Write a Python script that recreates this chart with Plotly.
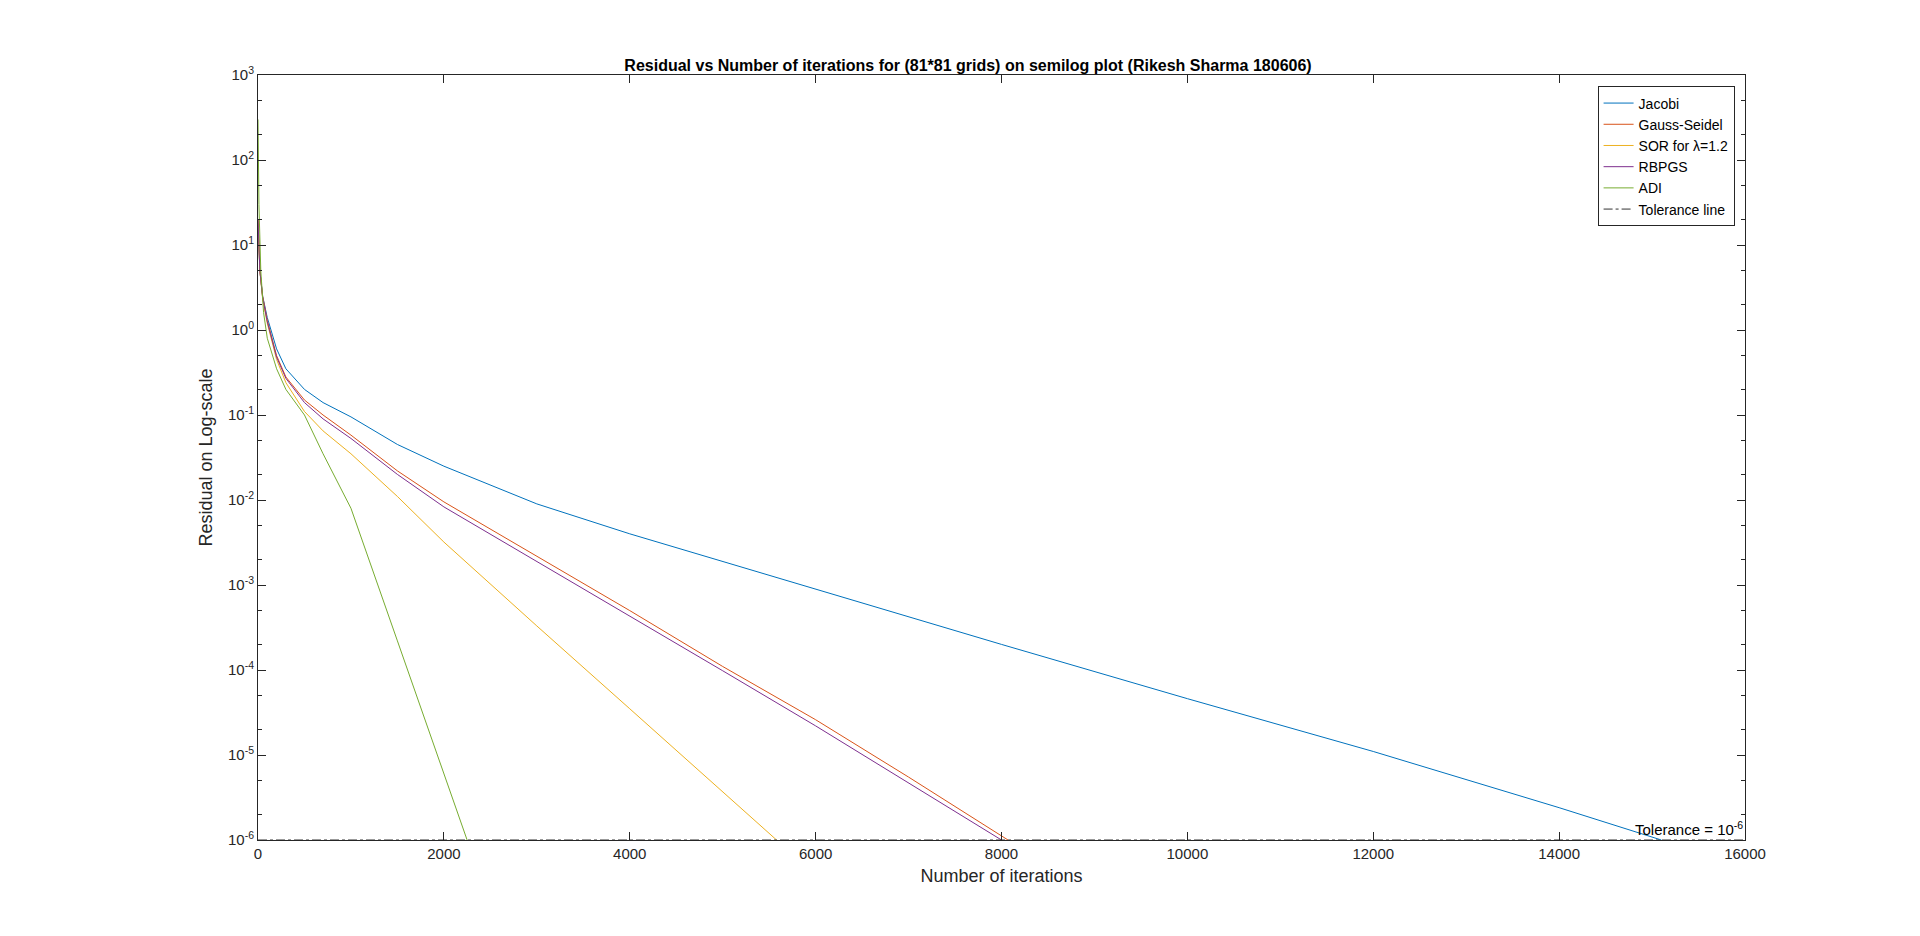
import plotly.graph_objects as go

jac_x = [0, 20, 50, 100, 200, 300, 500, 700, 1000, 1500, 2000, 3000, 4000, 6000, 8000, 10000, 12000, 14000, 15100]
jac_y = [20, 5, 2.5, 1.4, 0.6, 0.35, 0.2, 0.14, 0.095, 0.045, 0.025, 0.009, 0.004, 0.0009, 0.0002, 4.6e-5, 1.1e-5, 2.4e-6, 1e-6]
gs_x = [0, 20, 50, 100, 200, 300, 500, 700, 1000, 1500, 2000, 3000, 4000, 5000, 6000, 7000, 8070]
gs_y = [20, 5, 2.5, 1.3, 0.5, 0.28, 0.15, 0.1, 0.058, 0.022, 0.0095, 0.0022, 0.0005, 0.00011, 2.6e-5, 5.5e-6, 1e-6]
sor_x = [0, 20, 50, 100, 200, 300, 500, 700, 1000, 1500, 2000, 3000, 4000, 5000, 5580]
sor_y = [20, 5, 2.3, 1.2, 0.45, 0.24, 0.11, 0.065, 0.035, 0.011, 0.0032, 0.00033, 3.5e-5, 3.7e-6, 1e-6]
rb_x = [0, 20, 50, 100, 200, 300, 500, 700, 1000, 1500, 2000, 3000, 4000, 5000, 6000, 7000, 8000]
rb_y = [20, 5, 2.4, 1.25, 0.48, 0.27, 0.14, 0.09, 0.053, 0.02, 0.0083, 0.0019, 0.00043, 9.8e-5, 2.2e-5, 4.7e-6, 1e-6]
adi_x = [0, 10, 30, 60, 100, 200, 300, 500, 700, 1000, 1500, 2000, 2250]
adi_y = [300, 30, 5, 1.6, 0.8, 0.35, 0.2, 0.1, 0.035, 0.008, 0.00022, 6e-6, 1e-6]
tol_x = [0, 16000]
tol_y = [1e-6, 1e-6]

series = [("Jacobi", jac_x, jac_y, "#0072BD"), ("Gauss-Seidel", gs_x, gs_y, "#D95319"),
          ("SOR for λ=1.2", sor_x, sor_y, "#EDB120"), ("RBPGS", rb_x, rb_y, "#7E2F8E"),
          ("ADI", adi_x, adi_y, "#77AC30")]

fig = go.Figure()
for name, x, y, c in series:
    fig.add_trace(go.Scatter(x=x, y=y, name=name, mode="lines", line=dict(color=c, width=1)))
fig.add_trace(go.Scatter(x=tol_x, y=tol_y, name="Tolerance line", mode="lines", line=dict(color="#333", width=1, dash="dashdot")))

ytv = [10.0 ** k for k in range(-6, 4)]
ytt = ["10<sup>%d</sup>" % k for k in range(-6, 4)]
fig.update_layout(
    width=1920, height=936, paper_bgcolor="white", plot_bgcolor="white",
    margin=dict(l=250, r=183, t=67, b=104),
    font=dict(family="Liberation Sans, Arial", size=15, color="#262626"),
    title=dict(text="<b>Residual vs Number of iterations for (81*81 grids) on semilog plot (Rikesh Sharma 180606)</b>",
               x=0.5, xanchor="center", y=0.945, font=dict(size=16, color="black")),
    showlegend=True,
    legend=dict(x=0.993, y=0.985, xanchor="right", yanchor="top", bordercolor="#262626", borderwidth=1,
                bgcolor="white", font=dict(size=14, color="black"), tracegroupgap=0),
    xaxis=dict(title=dict(text="Number of iterations", standoff=8), range=[0, 16000], dtick=2000,
               tickformat="d",
               showgrid=False, zeroline=False, showline=True, linecolor="#262626", mirror="ticks",
               ticks="inside", ticklen=8, tickcolor="#262626"),
    yaxis=dict(title=dict(text="Residual on Log-scale", standoff=10), type="log", range=[-6, 3],
               tickvals=ytv, ticktext=ytt, showgrid=False, zeroline=False, showline=True,
               linecolor="#262626", mirror="ticks", ticks="inside", ticklen=8, tickcolor="#262626",
               minor=dict(ticks="inside", ticklen=4, tickcolor="#262626", showgrid=False)),
)
fig.add_annotation(x=1, y=0, xref="paper", yref="paper", xanchor="right", yanchor="bottom",
                   text="Tolerance = 10<sup>-6</sup>", showarrow=False, font=dict(size=15, color="black"))
fig.write_html("out.html")
